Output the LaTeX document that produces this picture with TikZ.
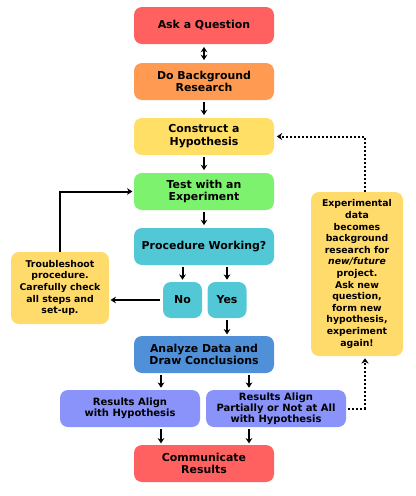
\documentclass[tikz,border=0pt]{standalone}
\usepackage{fontspec}
\setmainfont{DejaVu Sans}
\usetikzlibrary{positioning, arrows.meta, calc}

\definecolor{askred}{HTML}{FF6161}
\definecolor{bgorange}{HTML}{FF9A52}
\definecolor{hypoyellow}{HTML}{FFDF66}
\definecolor{testgreen}{HTML}{7DF26E}
\definecolor{proccyan}{HTML}{52C8D6}
\definecolor{analyzeblue}{HTML}{4F90D8}
\definecolor{resultblue}{HTML}{8A93FA}
\definecolor{noteyellow}{HTML}{FFDB6B}

\begin{document}
\begin{tikzpicture}[
    x=0.75pt, y=-0.75pt,
    stage/.style={rectangle, rounded corners=6pt, minimum width=105pt,
                  minimum height=27.75pt, inner sep=1pt, align=center,
                  font=\bfseries\fontsize{8.2}{9.6}\selectfont},
    result/.style={stage, font=\bfseries\fontsize{7.5}{8.3}\selectfont},
    choice/.style={stage, minimum width=29.25pt, minimum height=27pt, inner sep=0pt},
    note/.style={rectangle, rounded corners=6pt, align=center, inner sep=1pt,
                 font=\bfseries\fontsize{7}{8.7}\selectfont},
    arrow/.style={-{Stealth[length=4pt, width=5pt]}, line width=1.5pt},
    dots/.style={dash pattern=on 1.5pt off 1.5pt, line width=1.5pt, -{Stealth[length=4pt, width=5.5pt]}}
]
    \useasboundingbox (0,0) rectangle (415,496);

    % Main column
    \node[stage, fill=askred] (ask) at (204,25.5) {Ask a Question};
    \node[stage, fill=bgorange] (research) at (204,81.5) {Do Background\\Research};
    \node[stage, fill=hypoyellow] (hypo) at (204,136.5) {Construct a\\Hypothesis};
    \node[stage, fill=testgreen] (test) at (204,191.5) {Test with an\\Experiment};
    \node[stage, fill=proccyan] (proc) at (204,246.5) {Procedure Working?};

    % No / Yes
    \node[choice, fill=proccyan] (no) at (182.5,300) {No};
    \node[choice, fill=proccyan] (yes) at (227,300) {Yes};

    % Troubleshoot note
    \node[note, fill=noteyellow, minimum width=73.5pt, minimum height=54pt] (trouble) at (60,288)
        {Troubleshoot\\procedure.\\Carefully check\\all steps and\\set-up.};

    % Analysis and results
    \node[stage, fill=analyzeblue] (analyze) at (204,354.5) {Analyze Data and\\Draw Conclusions};
    \node[result, fill=resultblue] (align) at (130,408.5) {Results Align\\with Hypothesis};
    \node[result, fill=resultblue] (partial) at (276,408.5) {Results Align\\Partially or Not at All\\with Hypothesis};
    \node[stage, fill=askred] (comm) at (204,463.5) {Communicate\\Results};

    % Feedback note
    \node[note, fill=noteyellow, minimum width=69pt, minimum height=123pt] (newdata) at (357,274)
        {Experimental\\data\\becomes\\background\\research for\\\textit{new/future}\\project.\\Ask new\\question,\\form new\\hypothesis,\\experiment\\again!};

    \coordinate (left) at (161,0);
    \coordinate (right) at (249,0);
    \coordinate (back) at (365,0);

    % Forward path arrows
    \draw[{Stealth[length=4pt, width=5pt]}-{Stealth[length=4pt, width=5pt]}, line width=1.5pt,
          shorten <=2pt, shorten >=2pt] (ask) -- (research);
    \draw[arrow, shorten <=1.5pt, shorten >=2pt] (research) -- (hypo);
    \draw[arrow, shorten <=1.5pt, shorten >=2pt] (hypo) -- (test);
    \draw[arrow, shorten <=1.5pt, shorten >=2pt] (test) -- (proc);
    \draw[arrow, shorten <=1.5pt, shorten >=1.5pt] (proc.south -| no) -- (no);
    \draw[arrow, shorten <=1.5pt, shorten >=1.5pt] (proc.south -| yes) -- (yes);
    \draw[arrow, shorten <=1.5pt, shorten >=1pt] (yes) -- (yes |- analyze.north);
    \draw[arrow, shorten <=1.5pt, shorten >=1.5pt] (analyze.south -| left) -- (left |- align.north);
    \draw[arrow, shorten <=1.5pt, shorten >=1.5pt] (analyze.south -| right) -- (right |- partial.north);
    \draw[arrow, shorten <=1.5pt, shorten >=1pt] (left |- align.south) -- (left |- comm.north);
    \draw[arrow, shorten <=1.5pt, shorten >=1pt] (right |- partial.south) -- (right |- comm.north);

    % Troubleshoot loop
    \draw[arrow, shorten <=2pt, shorten >=1pt] (no.west) -- (no.west -| trouble.east);
    \draw[arrow, shorten >=1pt] (trouble.north) |- (test.west);

    % New project loop
    \draw[dots, shorten <=1.5pt, shorten >=1.5pt] (partial.east) -| (back |- newdata.south);
    \draw[dots, shorten >=2pt] (back |- newdata.north) |- (hypo.east);

\end{tikzpicture}
\end{document}
